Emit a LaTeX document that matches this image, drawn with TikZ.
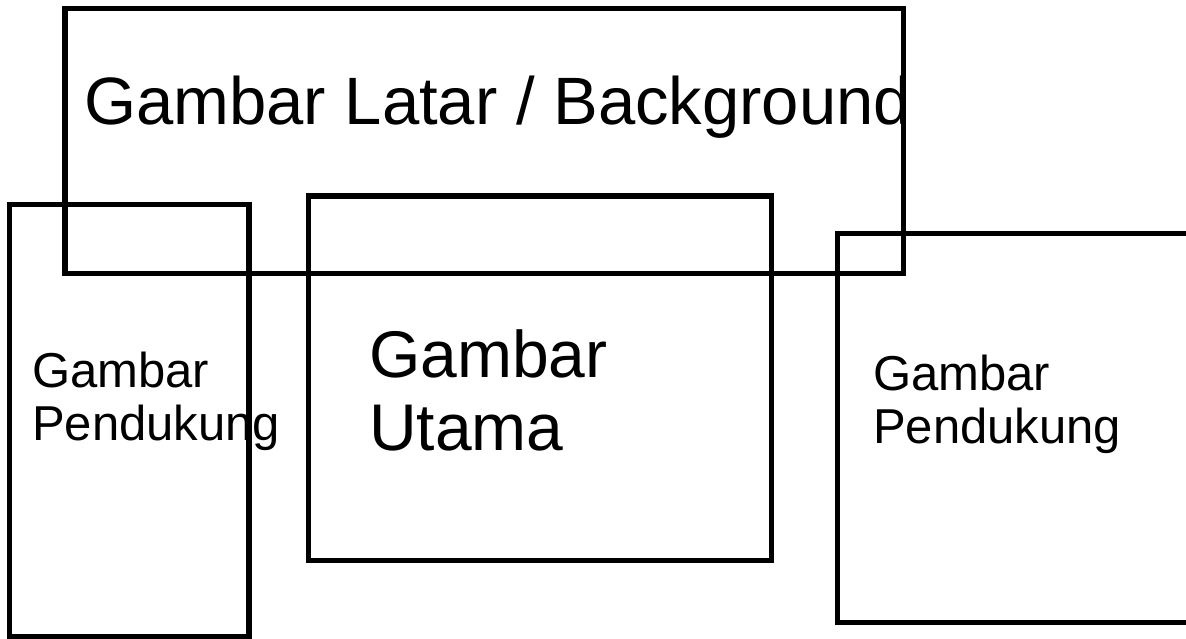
\documentclass[tikz,border=0pt]{standalone}
\usepackage{fontspec}
\setmainfont{Liberation Sans}
\begin{document}
\begin{tikzpicture}[x=1pt,y=-1pt,
  box/.style={draw=black,line width=5.5pt,line join=miter},
  big/.style={font=\fontsize{66}{73}\selectfont,inner sep=0pt,anchor=base west,align=left},
  small/.style={font=\fontsize{49}{53}\selectfont,inner sep=0pt,anchor=base west,align=left}]
\useasboundingbox[fill=white] (0,0) rectangle (1186,639);
\node[big,font=\fontsize{67}{73}\selectfont] (title) at (84,125) {Gambar Latar / Background};
\node[big] (main) at (369,450) {Gambar\\Utama};
\node[small] (left) at (32,440) {Gambar\\Pendukung};
\node[small] (right) at (873,443) {Gambar\\Pendukung};
\draw[box] (65,8.5) rectangle (903.5,273.5);
\draw[box] (9.5,204.5) rectangle (249,636.5);
\draw[box] (308.5,196) rectangle (771.5,560.5);
\draw[box] (837.5,233.5) rectangle (1200,622.5);
\end{tikzpicture}
\end{document}
